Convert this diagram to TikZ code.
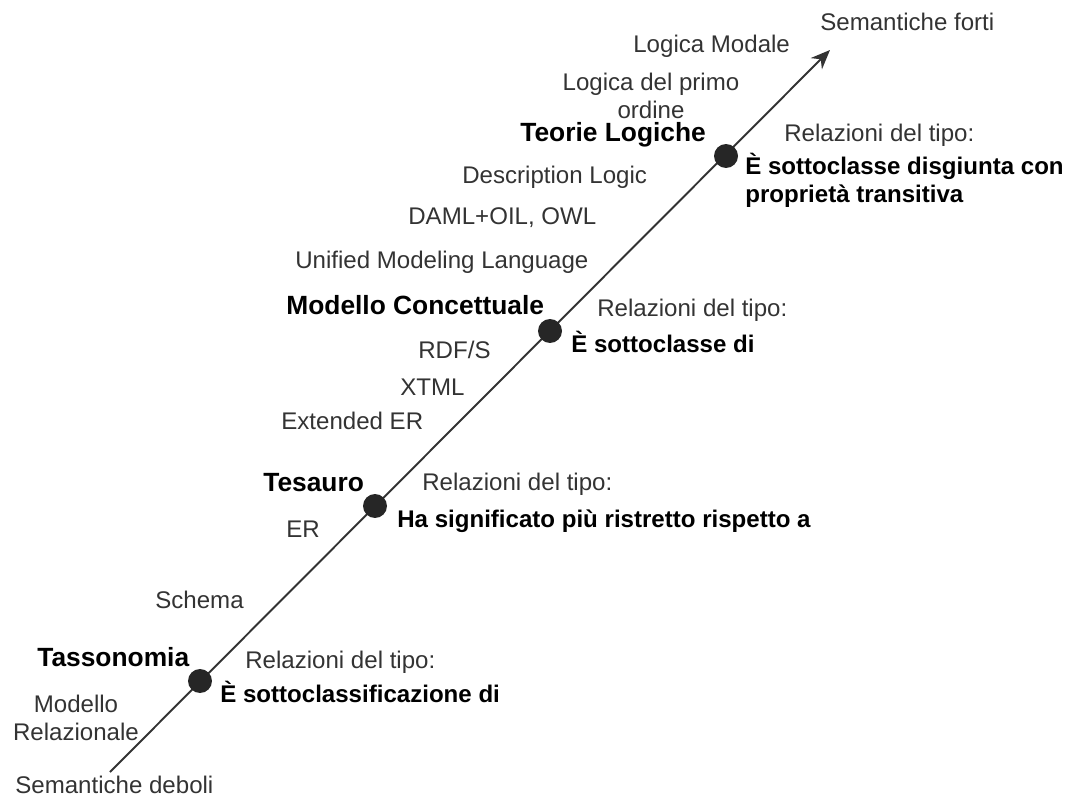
\documentclass[tikz,border=0pt]{standalone}
\usepackage{fontspec}
\setmainfont{Liberation Sans}
\usepackage{tikz}
\usetikzlibrary{arrows.meta,positioning}

\begin{document}
\begin{tikzpicture}[x=0.02cm,y=-0.02cm]
	\tikzset{lbl/.style={inner sep=0pt,font=\fontsize{13.7}{16}\selectfont,text=black!80},
		bld/.style={inner sep=0pt,font=\fontsize{13.7}{16}\selectfont\bfseries,text=black},
		ttl/.style={inner sep=0pt,font=\fontsize{15}{18}\selectfont\bfseries,text=black},
		pt/.style={circle,fill=black!85,inner sep=0pt,minimum size=0.48cm}}
	\useasboundingbox (0,0) rectangle (1072,804);

	%% axis
	\coordinate (lo) at (110,772);
	\coordinate (hi) at (830,50);
	\draw[line width=1.1pt,black!80,-{Stealth[length=11pt,width=9pt]}] (lo) -- (hi);

	%% levels
	\node[pt] (tas) at (200,681) {};
	\node[pt] (tes) at (375,506) {};
	\node[pt] (con) at (550,331) {};
	\node[pt] (teo) at (726,156) {};

	%% ends
	\node[lbl,anchor=west] (deb) at (15,785) {Semantiche deboli};
	\node[lbl,anchor=west] (for) at (820,22) {Semantiche forti};

	%% Tassonomia
	\node[ttl,anchor=west] (tasn) at (37,657) {Tassonomia};
	\node[lbl,align=center] (rel) at (76,718) {Modello\\Relazionale};
	\node[lbl,anchor=west] (tasr) at (245,662) {Relazioni del tipo:};
	\node[bld,anchor=west] (tass) at (220,692) {È sottoclassificazione di};
	\node[lbl,anchor=west] (sch) at (155,600) {Schema};

	%% Tesauro
	\node[ttl,anchor=west] (tesn) at (263,483) {Tesauro};
	\node[lbl,anchor=west] (er) at (286,529) {ER};
	\node[lbl,anchor=west] (tesr) at (422,484) {Relazioni del tipo:};
	\node[bld,anchor=west] (tess) at (397,521) {Ha significato più ristretto rispetto a};

	%% Modello Concettuale
	\node[lbl,anchor=west] (eer) at (281,421) {Extended ER};
	\node[lbl,anchor=west] (xtml) at (400,387) {XTML};
	\node[lbl,anchor=west] (rdf) at (418,350) {RDF/S};
	\node[ttl,anchor=west] (conn) at (286,305) {Modello Concettuale};
	\node[lbl,anchor=west] (conr) at (597,310) {Relazioni del tipo:};
	\node[bld,anchor=west] (cons) at (571,342) {È sottoclasse di};
	\node[lbl,anchor=west] (uml) at (295,262) {Unified Modeling Language};
	\node[lbl,anchor=west] (daml) at (408,218) {DAML+OIL, OWL};
	\node[lbl,anchor=west] (dl) at (462,177) {Description Logic};

	%% Teorie Logiche
	\node[ttl,anchor=west] (teon) at (520,135) {Teorie Logiche};
	\node[lbl,anchor=west] (teor) at (784,135) {Relazioni del tipo:};
	\node[bld,anchor=north west,align=left] (teos) at (745,153) {È sottoclasse disgiunta con\\proprietà transitiva};
	\node[lbl,align=center] (fol) at (651,96) {Logica del primo\\ordine};
	\node[lbl,anchor=west] (mod) at (633,46) {Logica Modale};
\end{tikzpicture}
\end{document}
